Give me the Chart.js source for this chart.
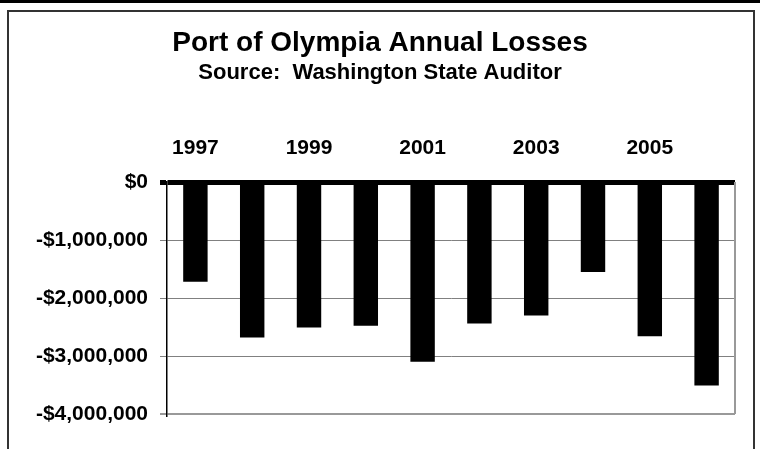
<!DOCTYPE html>
<html>
<head>
<meta charset="utf-8">
<script src="https://cdn.jsdelivr.net/npm/chart.js@4"></script>
<style>
  body { margin: 0; background: #fff; }
  #wrap { width: 760px; height: 449px; position: relative; }
</style>
</head>
<body>
<div id="wrap"><canvas id="myChart"></canvas></div>
<script>
const years = ["1997", "1998", "1999", "2000", "2001", "2002", "2003", "2004", "2005", "2006"];
const losses = [-1720000, -2680000, -2510000, -2480000, -3100000, -2440000, -2300000, -1550000, -2660000, -3510000];
const yTicks = [0, -1000000, -2000000, -3000000, -4000000];

Chart.defaults.font.family = 'Arial, "Liberation Sans", sans-serif';
Chart.defaults.color = '#000';

function money(v) {
  if (v === 0) return '$0';
  return (v < 0 ? '-$' : '$') + Math.abs(v).toLocaleString('en-US');
}

// page frame + right border of the plot
const framePlugin = {
  id: 'frame',
  beforeDraw(chart) {
    const c = chart.ctx;
    c.save();
    c.fillStyle = '#fff';
    c.fillRect(0, 0, chart.width, chart.height);
    c.fillStyle = '#000';
    c.fillRect(0, 0, chart.width, 3);
    c.strokeStyle = '#333';
    c.lineWidth = 2;
    c.strokeRect(8, 11, 746, 460);
    c.restore();
  },
  beforeDatasetsDraw(chart) {
    const a = chart.chartArea;
    const c = chart.ctx;
    c.save();
    c.strokeStyle = '#999';
    c.lineWidth = 2;
    c.beginPath();
    c.moveTo(a.right, a.top);
    c.lineTo(a.right, a.bottom);
    c.stroke();
    c.restore();
  }
};

const ctx = document.getElementById('myChart').getContext('2d');
const chart = new Chart(ctx, {
  type: 'bar',
  data: {
    labels: years,
    datasets: [{
      label: 'Annual Loss',
      data: losses,
      backgroundColor: '#000',
      borderWidth: 0,
      barPercentage: 0.43,
      categoryPercentage: 1
    }]
  },
  options: {
    responsive: true,
    maintainAspectRatio: false,
    animation: false,
    layout: { padding: { left: 25, right: 25, top: 0, bottom: 35 } },
    scales: {
      x: {
        position: 'top',
        afterFit: function (scale) { scale.height = 98; },
        grid: { display: false, drawTicks: false },
        border: { display: false },
        ticks: {
          autoSkip: false,
          maxRotation: 0,
          padding: 21,
          font: { size: 21, weight: 'bold' },
          callback: function (value, index) {
            return index % 2 === 0 ? years[index] : '';
          }
        }
      },
      y: {
        min: -4000000,
        max: 0,
        afterFit: function (scale) { scale.width = 142; },
        afterBuildTicks: function (scale) {
          scale.ticks = yTicks.map(v => ({ value: v }));
        },
        grid: {
          tickLength: 7,
          color: ctx => ctx.tick && ctx.tick.value === 0 ? '#000' : (ctx.tick && ctx.tick.value === -4000000 ? '#999' : '#808080'),
          lineWidth: ctx => ctx.tick && ctx.tick.value === 0 ? 5 : (ctx.tick && ctx.tick.value === -4000000 ? 2 : 1)
        },
        border: { display: true, color: '#000', width: 1.5 },
        ticks: {
          padding: 12,
          font: { size: 21, weight: 'bold' },
          callback: v => money(v)
        }
      }
    },
    plugins: {
      legend: { display: false },
      tooltip: { enabled: false },
      title: {
        display: true,
        text: 'Port of Olympia Annual Losses',
        font: { size: 28, weight: 'bold', lineHeight: 1 },
        padding: { top: 29, bottom: 5 }
      },
      subtitle: {
        display: true,
        text: 'Source:  Washington State Auditor',
        font: { size: 22, weight: 'bold', lineHeight: 1 },
        padding: { top: 0, bottom: 0 }
      }
    }
  },
  plugins: [framePlugin]
});
</script>
</body>
</html>
